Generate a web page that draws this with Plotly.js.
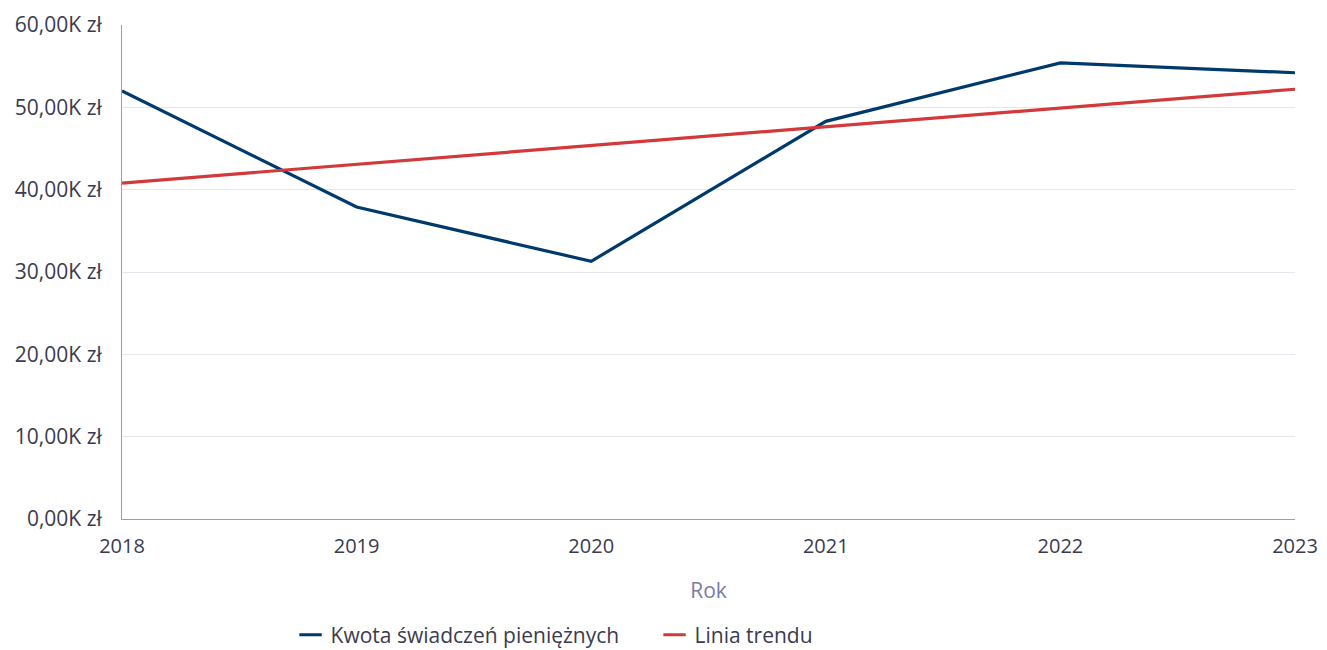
<!DOCTYPE html>
<html>
<head>
<meta charset="utf-8">
<script src="https://cdn.plot.ly/plotly-3.0.1.min.js"></script>
<style>html,body{margin:0;padding:0;background:#fff;}#chart{width:1327px;height:650px;}</style>
</head>
<body>
<div id="chart"></div>
<script>
const years = [2018, 2019, 2020, 2021, 2022, 2023];
const amounts = [52000, 37900, 31300, 48300, 55400, 54200];
const trendYears = [2018, 2023];
const trendValues = [40800, 52200];
const yTickVals = [0, 10000, 20000, 30000, 40000, 50000, 60000];
const yTickText = ["0,00K zł", "10,00K zł", "20,00K zł", "30,00K zł", "40,00K zł", "50,00K zł", "60,00K zł"];
const seriesNames = ["Kwota świadczeń pieniężnych", "Linia trendu"];
const xTitle = "Rok";

const blue = "#003a6c";
const red = "#d2393b";
const textColor = "#3b3b4f";

const traces = [
  {x: years, y: amounts, mode: "lines", line: {color: blue, width: 3.2}, showlegend: false, hoverinfo: "x+y"},
  {x: trendYears, y: trendValues, mode: "lines", line: {color: red, width: 3.2}, showlegend: false, hoverinfo: "x+y"},
  {x: [null], y: [null], mode: "markers", name: seriesNames[0], legend: "legend",
   marker: {symbol: "line-ew", size: 16, line: {color: blue, width: 3}}},
  {x: [null], y: [null], mode: "markers", name: seriesNames[1], legend: "legend2",
   marker: {symbol: "line-ew", size: 16, line: {color: red, width: 3}}}
];

const legendBase = {
  orientation: "h", xanchor: "left", y: -0.235, yanchor: "middle",
  font: {size: 21, color: textColor}, itemwidth: 30, bgcolor: "rgba(0,0,0,0)"
};

const layout = {
  width: 1327, height: 650,
  margin: {l: 122, r: 32, t: 25, b: 131, autoexpand: false},
  paper_bgcolor: "#fff", plot_bgcolor: "#fff",
  font: {family: "Open Sans, sans-serif", size: 21, color: textColor},
  xaxis: {
    range: [2018, 2023], tickvals: years, ticktext: years.map(String),
    showgrid: false, zeroline: false, automargin: false,
    showline: true, linecolor: "#9a9ac4", linewidth: 1,
    ticks: "", ticklabelstandoff: 9,
    tickfont: {size: 20},
    title: {text: xTitle, font: {size: 21, color: "#7b7ba6"}, standoff: 25}
  },
  yaxis: {
    range: [0, 60000], tickvals: yTickVals, ticktext: yTickText,
    showgrid: true, gridcolor: "#e6e6ef", gridwidth: 1, zeroline: false, automargin: false,
    showline: true, linecolor: "#9a9ac4", linewidth: 1,
    ticks: "", ticklabelstandoff: 15,
    tickfont: {size: 21}
  },
  legend: Object.assign({}, legendBase, {x: 0.1437}),
  legend2: Object.assign({}, legendBase, {x: 0.454}),
  showlegend: true
};

Plotly.newPlot("chart", traces, layout, {displayModeBar: false, staticPlot: true});
</script>
</body>
</html>
